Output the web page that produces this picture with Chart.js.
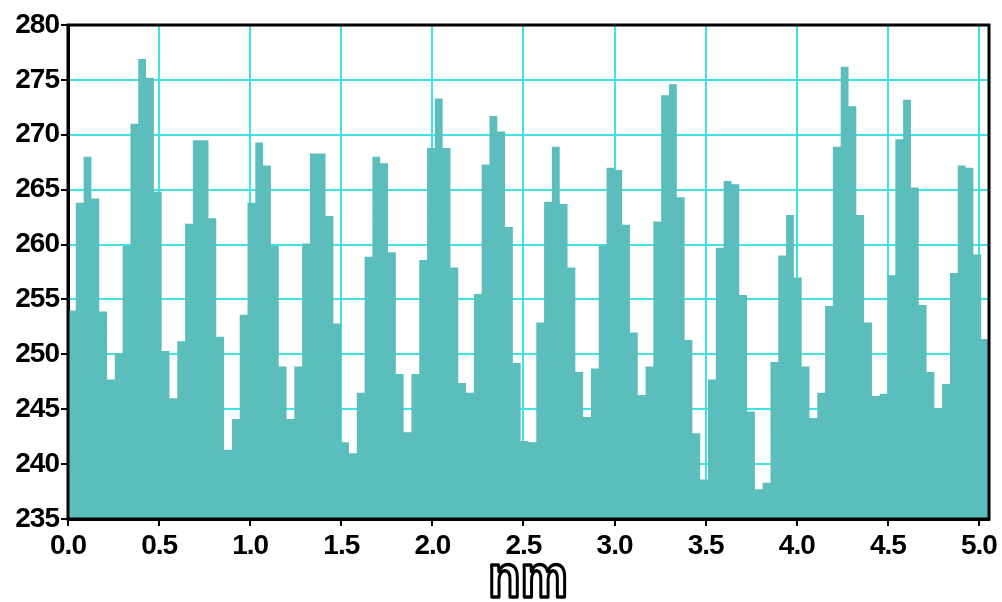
<!DOCTYPE html>
<html lang="en">

<head>
    <meta charset="UTF-8" />
    <title>nm profile</title>
    <script src="https://cdn.jsdelivr.net/npm/chart.js"></script>
    <style>
        body {
            margin: 0;
            background: #ffffff;
        }

        #wrap {
            width: 1002px;
            height: 602px;
        }
    </style>
</head>

<body>
    <div id="wrap"><canvas id="profileChart"></canvas></div>

    <script>
        // heights, one per bin, left to right
        const heights = [
            254.0, 263.8, 268.0, 264.2, 253.9, 247.7, 250.1, 259.9, 271.0, 276.9,
            275.2, 264.8, 250.3, 246.0, 251.2, 261.9, 269.5, 269.5, 262.4, 251.6,
            241.3, 244.1, 253.6, 263.8, 269.3, 267.2, 259.9, 248.9, 244.1, 248.9,
            260.1, 268.3, 268.3, 262.6, 252.8, 242.0, 241.0, 246.5, 258.9, 268.0,
            267.4, 259.3, 248.2, 242.9, 248.2, 258.6, 268.8, 273.3, 268.8, 257.9,
            247.4, 246.5, 255.5, 267.3, 271.7, 270.3, 261.6, 249.2, 242.1, 242.0,
            252.9, 263.9, 268.9, 263.7, 257.9, 248.4, 244.3, 248.7, 259.9, 267.0,
            266.8, 261.8, 252.0, 246.3, 248.9, 262.1, 273.6, 274.6, 264.3, 251.3,
            242.8, 238.6, 247.7, 259.7, 265.8, 265.5, 255.4, 244.8, 237.7, 238.3,
            249.3, 259.0, 262.7, 257.0, 248.9, 244.2, 246.5, 254.4, 268.9, 276.2,
            272.6, 262.7, 252.9, 246.2, 246.4, 257.2, 269.6, 273.2, 265.2, 254.5,
            248.4, 245.1, 247.3, 257.4, 267.2, 267.0, 259.1, 251.4
        ];
        const binWidth = 0.04284; // nm
        const yTicks = [235, 240, 245, 250, 255, 260, 265, 270, 275, 280];
        const xTickLabels = ["0.0", "0.5", "1.0", "1.5", "2.0", "2.5", "3.0", "3.5", "4.0", "4.5", "5.0"];
        const xTitle = "nm";

        const xMax = binWidth * heights.length;

        // stepped line: one point at the start of each bin, plus the closing edge
        const points = heights.map((h, i) => ({ x: i * binWidth, y: h }));
        points.push({ x: xMax, y: heights[heights.length - 1] });

        const labelFont = { family: "'Liberation Sans', Arial, sans-serif", size: 28, weight: 'bold' };

        const framePlugin = {
            id: 'frame',
            beforeDraw(chart) {
                // tighter digits, like the original labels
                chart.ctx.letterSpacing = '-1px';
            },
            afterDraw(chart) {
                const { ctx, chartArea: a } = chart;
                ctx.save();
                ctx.strokeStyle = '#000';
                ctx.lineWidth = 3;
                ctx.strokeRect(a.left, a.top, a.right - a.left, a.bottom - a.top);

                // outlined axis title
                ctx.letterSpacing = '0px';
                ctx.font = "bold 62px 'Liberation Sans', Arial, sans-serif";
                ctx.textAlign = 'center';
                ctx.textBaseline = 'alphabetic';
                ctx.translate(528, 597);
                ctx.scale(0.86, 1);
                ctx.lineJoin = 'round';
                ctx.lineWidth = 3.5;
                ctx.fillStyle = '#fff';
                ctx.fillText(xTitle, 0, 0);
                ctx.strokeText(xTitle, 0, 0);
                ctx.restore();
            }
        };

        const ctx = document.getElementById('profileChart').getContext('2d');
        const profileChart = new Chart(ctx, {
            type: 'line',
            data: {
                datasets: [{
                    data: points,
                    stepped: 'before',
                    fill: 'start',
                    backgroundColor: '#5cbdbd',
                    borderColor: 'rgba(0,0,0,0)',
                    borderWidth: 0,
                    pointRadius: 0
                }]
            },
            options: {
                responsive: true,
                maintainAspectRatio: false,
                animation: false,
                layout: { padding: { top: 25, right: 13, left: 0, bottom: 0 } },
                plugins: {
                    legend: { display: false },
                    tooltip: { enabled: false }
                },
                scales: {
                    x: {
                        type: 'linear',
                        min: 0,
                        max: xMax,
                        afterBuildTicks: scale => {
                            scale.ticks = xTickLabels.map(t => ({ value: parseFloat(t) }));
                        },
                        afterFit: scale => { scale.height = 83; },
                        ticks: {
                            callback: (v, i) => xTickLabels[i],
                            color: '#000',
                            font: labelFont,
                            padding: 3,
                            maxRotation: 0,
                            autoSkip: false
                        },
                        grid: {
                            color: '#3fe3e3',
                            lineWidth: 2,
                            tickColor: '#000',
                            tickLength: 7,
                            tickWidth: 2
                        },
                        border: { color: '#000', width: 3 }
                    },
                    y: {
                        min: yTicks[0],
                        max: yTicks[yTicks.length - 1],
                        afterBuildTicks: scale => {
                            scale.ticks = yTicks.map(v => ({ value: v }));
                        },
                        afterFit: scale => { scale.width = 68; },
                        ticks: {
                            color: '#000',
                            font: labelFont,
                            padding: 2
                        },
                        grid: {
                            color: '#3fe3e3',
                            lineWidth: 2,
                            tickColor: '#000',
                            tickLength: 7,
                            tickWidth: 2
                        },
                        border: { color: '#000', width: 3 }
                    }
                }
            },
            plugins: [framePlugin]
        });
    </script>
</body>

</html>
